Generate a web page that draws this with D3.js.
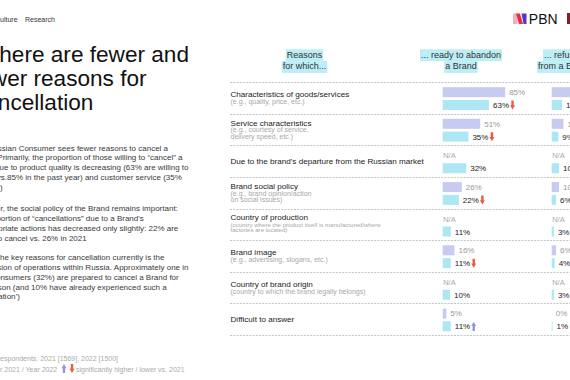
<!DOCTYPE html>
<html>
<head>
<meta charset="utf-8">
<script src="https://cdn.jsdelivr.net/npm/d3@7"></script>
<style>
  body { margin: 0; background: #fff; }
  svg { display: block; font-family: "Liberation Sans", Arial, sans-serif; }
</style>
</head>
<body>
<script>
// ---- data ----
var reasons = ["Characteristics of goods/services", "Service characteristics",
  "Due to the brand's departure from the Russian market", "Brand social policy",
  "Country of production", "Brand image", "Country of brand origin", "Difficult to answer"];
var reasonNotes = [
  ["(e.g., quality, price, etc.)"],
  ["(e.g., courtesy of service,", "delivery speed, etc.)"],
  [],
  ["(e.g., brand opinion/action", "on social issues)"],
  ["(country where the product itself is manufactured/where", "factories are located)"],
  ["(e.g., advertising, slogans, etc.)"],
  ["(country to which the brand legally belongs)"],
  []
];
var abandon2021 = [85, 51, null, 26, null, 16, null, 5];
var abandon2022 = [63, 35, 32, 22, 11, 11, 10, 11];
var abandonSig = ["down", "down", null, "down", null, "down", null, "up"];
var refuse2021 = [31, 16, null, 10, null, 6, null, 0];
var refuse2022 = [14, 9, 10, 6, 3, 4, 3, 1];
var refuseSig = [null, null, null, null, null, "down", null, null];
var columnTitles = [["Reasons", "for which..."], ["... ready to abandon", "a Brand"], ["... refused", "from a Brand"]];

var titleLines = ["There are fewer and", "fewer reasons for", "cancellation"];
var paragraphs = [
  ["The Russian Consumer sees fewer reasons to cancel a",
   "Brand. Primarily, the proportion of those willing to \u201ccancel\u201d a",
   "Brand due to product quality is decreasing (63% are willing to",
   "cancel vs.85% in the past year) and customer service (35%",
   "vs. 51%)"],
  ["However, the social policy of the Brand remains important:",
   "the proportion of \u201ccancellations\u201d due to a Brand's",
   "inappropriate actions has decreased only slightly: 22% are",
   "willing to cancel vs. 26% in 2021"],
  ["One of the key reasons for cancellation currently is the",
   "suspension of operations within Russia. Approximately one in",
   "three consumers (32%) are prepared to cancel a Brand for",
   "this reason (and 10% have already experienced such a",
   "\u2018cancellation\u2019)"]
];
var navItems = ["Culture", "Research"];
var baseNote = "Base: all respondents, 2021 [1569], 2022 [1500]";
var yearNote = "Year 2021 / Year 2022";
var sigNote = "significantly higher / lower vs. 2021";

// ---- setup ----
var W = 570, H = 380;
var c2021 = "#c6cbef", c2022 = "#ade7f4", cHead = "#bdeef7";
var cUp = "#8f98d8", cDown = "#ec5a45";

var svg = d3.select("body").append("svg")
  .attr("width", W).attr("height", H);

// nav
var navX = [-5, 25];
svg.selectAll(".nav").data(navItems).enter().append("text")
  .attr("class", "nav")
  .attr("x", function (d, i) { return navX[i]; })
  .attr("y", 22)
  .attr("font-size", 7).attr("fill", "#333")
  .text(function (d) { return d; });

// title (left edge cropped in the slide)
var titleX = [-14.5, -28, -26];
svg.selectAll(".title").data(titleLines).enter().append("text")
  .attr("class", "title")
  .attr("x", function (d, i) { return titleX[i]; })
  .attr("y", function (d, i) { return 61.5 + i * 24.2; })
  .attr("font-size", 22.6).attr("fill", "#111")
  .text(function (d) { return d; });

// body paragraphs
var paraY = [150.5, 210.8, 259.8];
paragraphs.forEach(function (lines, p) {
  svg.append("g").selectAll("text").data(lines).enter().append("text")
    .attr("x", -28.5)
    .attr("y", function (d, i) { return paraY[p] + i * 9.9; })
    .attr("font-size", 8).attr("fill", "#3a3a3a")
    .text(function (d) { return d; });
});

// footnotes
svg.append("text").attr("x", -31).attr("y", 361)
  .attr("font-size", 7).attr("fill", "#aaa").text(baseNote);
svg.append("text").attr("x", -11.8).attr("y", 372)
  .attr("font-size", 7).attr("fill", "#aaa").text(yearNote);
svg.append("text").attr("x", 76).attr("y", 372)
  .attr("font-size", 7).attr("fill", "#aaa").text(sigNote);

function arrow(g, x, yc, dir, color) {
  var p;
  if (dir === "down") {
    p = "M" + (x + 1.3) + "," + (yc - 4.5) + "H" + (x + 3.7) + "V" + (yc + 0.3) +
        "H" + (x + 5) + "L" + (x + 2.5) + "," + (yc + 4.5) + "L" + x + "," + (yc + 0.3) +
        "H" + (x + 1.3) + "Z";
  } else {
    p = "M" + (x + 1.3) + "," + (yc + 4.5) + "H" + (x + 3.7) + "V" + (yc - 0.3) +
        "H" + (x + 5) + "L" + (x + 2.5) + "," + (yc - 4.5) + "L" + x + "," + (yc - 0.3) +
        "H" + (x + 1.3) + "Z";
  }
  g.append("path").attr("d", p).attr("fill", color);
}
arrow(svg, 61.5, 368.5, "up", cUp);
arrow(svg, 69.5, 368.5, "down", cDown);

// logo
var logo = svg.append("g");
logo.append("polygon").attr("points", "513,13.5 517.5,13.5 517.5,24 513,24").attr("fill", "#f5b0c0");
logo.append("polygon").attr("points", "516,13.5 520,13.5 523,24 519,24").attr("fill", "#e2303f");
logo.append("polygon").attr("points", "521.5,13.5 526.5,13.5 526.5,24 523.5,24").attr("fill", "#5a34c9");
logo.append("text").attr("x", 528.8).attr("y", 24)
  .attr("font-size", 14).attr("fill", "#111").text("PBN");
logo.append("rect").attr("x", 567).attr("y", 13).attr("width", 4).attr("height", 11).attr("fill", "#8a1c24");

// ---- table ----
var rowScale = d3.scaleBand().domain(d3.range(reasons.length)).range([82, 335]);
var xScale = d3.scaleLinear().domain([0, 100]).range([0, 73.5]);
var colX = [442.7, 551.7];
var headCx = [304.5, 461, 564];

// column headers with highlight
columnTitles.forEach(function (lines, c) {
  var g = svg.append("g");
  lines.forEach(function (t, i) {
    var y = 57.5 + i * 11.8;
    var txt = g.append("text").attr("x", headCx[c]).attr("y", y)
      .attr("text-anchor", "middle").attr("font-size", 9).attr("fill", "#333").text(t);
    var w = txt.node().getComputedTextLength();
    g.insert("rect", "text").attr("x", headCx[c] - w / 2 - 1).attr("y", y - 8.2)
      .attr("width", w + 2).attr("height", 11.8).attr("fill", cHead);
  });
});

// separators
var seps = d3.range(reasons.length + 1).map(function (i) {
  return i < reasons.length ? rowScale(i) : rowScale(reasons.length - 1) + rowScale.bandwidth();
});
svg.selectAll(".sep").data(seps).enter().append("line")
  .attr("x1", 230).attr("x2", W)
  .attr("y1", function (d) { return Math.round(d) + 0.5; })
  .attr("y2", function (d) { return Math.round(d) + 0.5; })
  .attr("stroke", "#b5b5b5").attr("stroke-width", 0.8).attr("stroke-dasharray", "2,1.2");

// row labels
reasons.forEach(function (r, i) {
  var top = rowScale(i);
  var notes = reasonNotes[i];
  var small = notes.some(function (n) { return n.length > 45; });
  var base = top + 18.5 - notes.length * 3.3;
  svg.append("text").attr("x", 230.5).attr("y", base)
    .attr("font-size", 8.1).attr("fill", "#1a1a1a").text(r);
  notes.forEach(function (n, k) {
    svg.append("text").attr("x", 230.5)
      .attr("y", base + (small ? 6.4 : 6.8) + k * (small ? 5.6 : 6.8))
      .attr("font-size", small ? 6.1 : 7).attr("fill", "#a8a8a8").text(n);
  });
});

// bars
function drawColumn(x0, v2021, v2022, sig) {
  var g = svg.append("g").attr("transform", "translate(" + x0 + ",0)");
  reasons.forEach(function (r, i) {
    var top = rowScale(i);
    if (v2021[i] === null) {
      g.append("text").attr("x", 0.5).attr("y", top + 13)
        .attr("font-size", 7.5).attr("fill", "#aaa").text("N/A");
    } else {
      g.append("rect").attr("x", 0).attr("y", top + 5.2)
        .attr("width", xScale(v2021[i])).attr("height", 10).attr("fill", c2021);
      g.append("text").attr("x", xScale(v2021[i]) + 4).attr("y", top + 13)
        .attr("font-size", 8).attr("fill", "#999").text(v2021[i] + "%");
    }
    g.append("rect").attr("x", 0).attr("y", top + 18)
      .attr("width", Math.max(xScale(v2022[i]), 0.8)).attr("height", 10).attr("fill", c2022);
    var lab = g.append("text").attr("x", xScale(v2022[i]) + 4).attr("y", top + 26)
      .attr("font-size", 8).attr("fill", "#1a1a1a").text(v2022[i] + "%");
    if (sig[i]) {
      var ax = xScale(v2022[i]) + 4 + lab.node().getComputedTextLength() + 1;
      arrow(g, ax, top + 23, sig[i], sig[i] === "up" ? cUp : cDown);
    }
  });
}
drawColumn(colX[0], abandon2021, abandon2022, abandonSig);
drawColumn(colX[1], refuse2021, refuse2022, refuseSig);
</script>
</body>
</html>
